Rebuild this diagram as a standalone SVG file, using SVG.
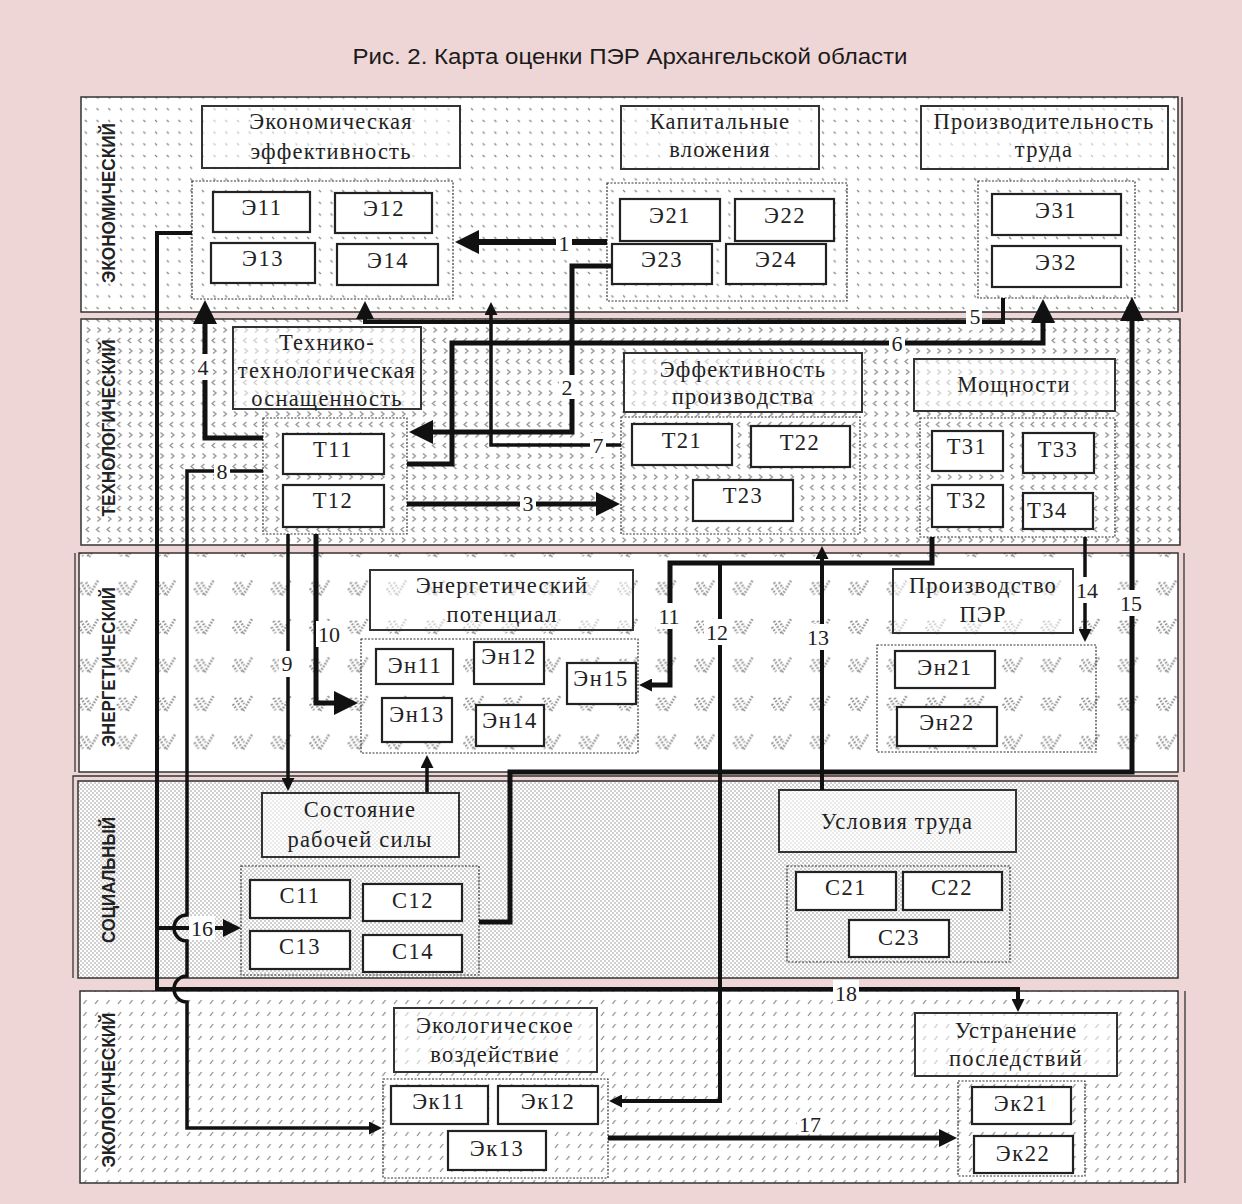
<svg xmlns="http://www.w3.org/2000/svg" width="1242" height="1204" viewBox="0 0 1242 1204">
<defs>
<pattern id="pEcon" width="11.7" height="11.7" patternUnits="userSpaceOnUse"><path d="M3,3 l2,2" stroke="#808080" stroke-width="1.3"/></pattern>
<pattern id="pTech" width="10.5" height="21" patternUnits="userSpaceOnUse"><path d="M5,2 l-3,2.5 l3,2.5 M3,12.5 l3,2.5 l-3,2.5" stroke="#8c8c8c" stroke-width="1.2" fill="none"/></pattern>
<pattern id="pEn" width="38.5" height="38.5" patternUnits="userSpaceOnUse"><g stroke="#8a8a8a" stroke-width="2.6" stroke-dasharray="1.5 1.6" fill="none"><path d="M4,5 L12,18 L21,3"/><path d="M9,5 L13,11"/><path d="M2,11 L6,17"/></g></pattern>
<pattern id="pSoc" width="4" height="4" patternUnits="userSpaceOnUse"><circle cx="1" cy="1" r="0.75" fill="#8a8a8a"/><circle cx="3" cy="3" r="0.75" fill="#8a8a8a"/></pattern>
<pattern id="pEcol" width="11.5" height="12" patternUnits="userSpaceOnUse"><path d="M3,8 L6,4" stroke="#7a7a7a" stroke-width="1.1"/></pattern>
<marker id="aL" markerUnits="userSpaceOnUse" markerWidth="24" markerHeight="24" refX="1" refY="12" orient="auto"><path d="M0,0 L24,12 L0,24 z" fill="#111"/></marker>
<marker id="aM" markerUnits="userSpaceOnUse" markerWidth="18" markerHeight="18" refX="1" refY="9" orient="auto"><path d="M0,0 L18,9 L0,18 z" fill="#111"/></marker>
<marker id="aS" markerUnits="userSpaceOnUse" markerWidth="13" markerHeight="13" refX="1" refY="6.5" orient="auto"><path d="M0,0 L13,6.5 L0,13 z" fill="#111"/></marker>
<style>
.band{stroke:#333;stroke-width:1.5}
.bl{font-family:"Liberation Sans Narrow","Liberation Sans",Arial,sans-serif;font-weight:bold;font-size:18px;fill:#222;text-anchor:middle}
.hd{fill:#fff;fill-opacity:0.55;stroke:#333;stroke-width:2}
.nd{fill:#fff;stroke:#222;stroke-width:2.2}
.gp{fill:none;stroke:#333;stroke-width:1.2;stroke-dasharray:2 1.5}
.t{font-family:"Liberation Serif","Times New Roman",serif;font-size:22.5px;letter-spacing:1.2px;fill:#222;text-anchor:middle}
.n{font-family:"Liberation Serif","Times New Roman",serif;font-size:22.5px;letter-spacing:1.5px;fill:#222;text-anchor:middle}
.c{fill:none;stroke:#111;stroke-linejoin:miter}
.w5{stroke-width:5}
.w4{stroke-width:4}
.w3{stroke-width:3.5}
.lb{fill:#fff}
.lt{font-family:"Liberation Serif","Times New Roman",serif;font-size:22px;fill:#222;text-anchor:middle}
</style>
</defs>
<rect x="0" y="0" width="1242" height="1204" fill="#efd6d6"/>
<text x="630" y="64" font-family="Liberation Sans Narrow, Liberation Sans, Arial, sans-serif" font-size="22" fill="#1a1a1a" text-anchor="middle" textLength="555" lengthAdjust="spacingAndGlyphs">Рис. 2. Карта оценки ПЭР Архангельской области</text>

<g id="bands">
<rect x="81" y="97" width="1097" height="215" fill="#fff"/><rect class="band" x="81" y="97" width="1097" height="215" fill="url(#pEcon)"/><path d="M1182,97 V312" stroke="#333" stroke-width="1.5"/>
<rect x="81" y="319" width="1099" height="226" fill="#fff"/><rect class="band" x="81" y="319" width="1099" height="226" fill="url(#pTech)"/>
<rect x="79" y="553" width="1099" height="219" fill="#fff"/><rect class="band" x="79" y="553" width="1099" height="219" fill="url(#pEn)"/><path d="M75,553 V772 M1184,553 V772" stroke="#333" stroke-width="1.3"/>
<rect x="78" y="781" width="1100" height="197" fill="#fff"/><rect class="band" x="78" y="781" width="1100" height="197" fill="url(#pSoc)"/><path d="M73,978 V776 H1178" stroke="#333" stroke-width="1.3" fill="none"/>
<rect x="80" y="991" width="1098" height="192" fill="#fff"/><rect class="band" x="80" y="991" width="1098" height="192" fill="url(#pEcol)"/><path d="M1185,991 V1183" stroke="#333" stroke-width="1.3"/>
<text class="bl" transform="translate(115,203) rotate(-90)" textLength="160" lengthAdjust="spacingAndGlyphs">ЭКОНОМИЧЕСКИЙ</text>
<text class="bl" transform="translate(115,428) rotate(-90)" textLength="177" lengthAdjust="spacingAndGlyphs">ТЕХНОЛОГИЧЕСКИЙ</text>
<text class="bl" transform="translate(115,667) rotate(-90)" textLength="160" lengthAdjust="spacingAndGlyphs">ЭНЕРГЕТИЧЕСКИЙ</text>
<text class="bl" transform="translate(115,880) rotate(-90)" textLength="126" lengthAdjust="spacingAndGlyphs">СОЦИАЛЬНЫЙ</text>
<text class="bl" transform="translate(115,1090) rotate(-90)" textLength="155" lengthAdjust="spacingAndGlyphs">ЭКОЛОГИЧЕСКИЙ</text>
</g>

<g id="econ-eff"><rect class="hd" x="202" y="106" width="258" height="62"/><text class="t" x="331" y="129">Экономическая</text><text class="t" x="331" y="159">эффективность</text></g>
<g id="E1"><rect class="gp" x="192" y="181" width="261" height="118"/>
<rect class="nd" x="213" y="192" width="97" height="40"/><text class="n" x="262" y="215">Э11</text>
<rect class="nd" x="335" y="193" width="97" height="40"/><text class="n" x="384" y="216">Э12</text>
<rect class="nd" x="211" y="243" width="104" height="40"/><text class="n" x="263" y="266">Э13</text>
<rect class="nd" x="337" y="244" width="101" height="41"/><text class="n" x="388" y="268">Э14</text></g>
<g id="cap-inv"><rect class="hd" x="621" y="106" width="198" height="63"/><text class="t" x="720" y="129">Капитальные</text><text class="t" x="720" y="157">вложения</text></g>
<g id="E2"><rect class="gp" x="607" y="183" width="240" height="118"/>
<rect class="nd" x="620" y="199" width="100" height="42"/><text class="n" x="670" y="223">Э21</text>
<rect class="nd" x="735" y="199" width="99" height="42"/><text class="n" x="785" y="223">Э22</text>
<rect class="nd" x="612" y="244" width="100" height="40"/><text class="n" x="662" y="267">Э23</text>
<rect class="nd" x="726" y="244" width="100" height="40"/><text class="n" x="776" y="267">Э24</text></g>
<g id="labor-prod"><rect class="hd" x="921" y="106" width="247" height="63"/><text class="t" x="1044" y="129">Производительность</text><text class="t" x="1044" y="157">труда</text></g>
<g id="E3"><rect class="gp" x="978" y="181" width="157" height="117"/>
<rect class="nd" x="992" y="194" width="129" height="41"/><text class="n" x="1056" y="218">Э31</text>
<rect class="nd" x="992" y="246" width="129" height="41"/><text class="n" x="1056" y="270">Э32</text></g>

<g id="tech-eq"><rect class="hd" x="233" y="327" width="188" height="82"/><text class="t" x="327" y="350">Технико-</text><text class="t" x="327" y="378" letter-spacing="0.2">технологическая</text><text class="t" x="327" y="406">оснащенность</text></g>
<g id="T1"><rect class="gp" x="263" y="418" width="144" height="116"/>
<rect class="nd" x="283" y="434" width="101" height="40"/><text class="n" x="333" y="457">Т11</text>
<rect class="nd" x="283" y="485" width="101" height="42"/><text class="n" x="333" y="508">Т12</text></g>
<g id="prod-eff"><rect class="hd" x="624" y="353" width="238" height="59"/><text class="t" x="743" y="377">Эффективность</text><text class="t" x="743" y="404">производства</text></g>
<g id="T2"><rect class="gp" x="621" y="417" width="239" height="117"/>
<rect class="nd" x="632" y="424" width="100" height="41"/><text class="n" x="682" y="448">Т21</text>
<rect class="nd" x="751" y="426" width="99" height="41"/><text class="n" x="800" y="450">Т22</text>
<rect class="nd" x="693" y="480" width="100" height="41"/><text class="n" x="743" y="503">Т23</text></g>
<g id="capacity"><rect class="hd" x="914" y="359" width="201" height="52"/><text class="t" x="1014" y="392">Мощности</text></g>
<g id="T3"><rect class="gp" x="920" y="418" width="195" height="119"/>
<rect class="nd" x="932" y="431" width="71" height="40"/><text class="n" x="967" y="454">Т31</text>
<rect class="nd" x="1023" y="433" width="71" height="40"/><text class="n" x="1058" y="457">Т33</text>
<rect class="nd" x="932" y="485" width="71" height="42"/><text class="n" x="967" y="508">Т32</text>
<rect class="nd" x="1023" y="493" width="70" height="36"/><text class="n" x="1027" y="518" style="text-anchor:start">Т34</text></g>

<g id="en-pot"><rect class="hd" x="370" y="570" width="263" height="60"/><text class="t" x="502" y="593">Энергетический</text><text class="t" x="502" y="622">потенциал</text></g>
<g id="En1"><rect class="gp" x="361" y="639" width="277" height="114"/>
<rect class="nd" x="376" y="649" width="77" height="35"/><text class="n" x="415" y="673">Эн11</text>
<rect class="nd" x="474" y="642" width="70" height="42"/><text class="n" x="509" y="664">Эн12</text>
<rect class="nd" x="382" y="698" width="70" height="44"/><text class="n" x="417" y="722">Эн13</text>
<rect class="nd" x="476" y="705" width="68" height="41"/><text class="n" x="510" y="728">Эн14</text>
<rect class="nd" x="567" y="663" width="69" height="41"/><text class="n" x="601" y="686">Эн15</text></g>
<g id="per-prod"><rect class="hd" x="893" y="569" width="180" height="64"/><text class="t" x="983" y="593">Производство</text><text class="t" x="983" y="622">ПЭР</text></g>
<g id="En2"><rect class="gp" x="877" y="645" width="219" height="107"/>
<rect class="nd" x="895" y="651" width="100" height="37"/><text class="n" x="945" y="675">Эн21</text>
<rect class="nd" x="897" y="707" width="100" height="39"/><text class="n" x="947" y="730">Эн22</text></g>

<g id="workforce"><rect class="hd" x="262" y="793" width="197" height="64"/><text class="t" x="360" y="817">Состояние</text><text class="t" x="360" y="847">рабочей силы</text></g>
<g id="C1"><rect class="gp" x="241" y="866" width="238" height="109"/>
<rect class="nd" x="250" y="880" width="100" height="38"/><text class="n" x="300" y="903">С11</text>
<rect class="nd" x="363" y="884" width="99" height="37"/><text class="n" x="413" y="908">С12</text>
<rect class="nd" x="250" y="931" width="100" height="38"/><text class="n" x="300" y="954">С13</text>
<rect class="nd" x="363" y="935" width="99" height="37"/><text class="n" x="413" y="959">С14</text></g>
<g id="work-cond"><rect class="hd" x="779" y="790" width="237" height="62"/><text class="t" x="897" y="829">Условия труда</text></g>
<g id="C2"><rect class="gp" x="787" y="866" width="223" height="96"/>
<rect class="nd" x="796" y="872" width="100" height="38"/><text class="n" x="846" y="895">С21</text>
<rect class="nd" x="903" y="872" width="99" height="38"/><text class="n" x="952" y="895">С22</text>
<rect class="nd" x="849" y="920" width="100" height="37"/><text class="n" x="899" y="945">С23</text></g>

<g id="eco-impact"><rect class="hd" x="394" y="1008" width="203" height="64"/><text class="t" x="495" y="1033">Экологическое</text><text class="t" x="495" y="1062">воздействие</text></g>
<g id="Ek1"><rect class="gp" x="383" y="1079" width="225" height="99"/>
<rect class="nd" x="391" y="1086" width="97" height="38"/><text class="n" x="439" y="1109">Эк11</text>
<rect class="nd" x="498" y="1086" width="100" height="38"/><text class="n" x="548" y="1109">Эк12</text>
<rect class="nd" x="448" y="1131" width="98" height="39"/><text class="n" x="497" y="1156">Эк13</text></g>
<g id="remediation"><rect class="hd" x="915" y="1013" width="202" height="63"/><text class="t" x="1016" y="1038">Устранение</text><text class="t" x="1016" y="1066">последствий</text></g>
<g id="Ek2"><rect class="gp" x="958" y="1081" width="127" height="95"/>
<rect class="nd" x="972" y="1087" width="99" height="37"/><text class="n" x="1021" y="1111">Эк21</text>
<rect class="nd" x="974" y="1136" width="99" height="37"/><text class="n" x="1023" y="1161">Эк22</text></g>

<g id="connectors">
<path class="c" stroke-width="6" d="M607,242 H478" marker-end="url(#aL)"/>
<path class="c w5" d="M612,266 H572 V432 H432" marker-end="url(#aL)"/>
<path class="c w5" d="M407,504 H597" marker-end="url(#aL)"/>
<path class="c w5" d="M263,438 H205 V323" marker-end="url(#aL)"/>
<path class="c w4" d="M1003,298 V322 H365 V318" marker-end="url(#aM)"/>
<path class="c w5" d="M407,464 H452 V343 H1043 V322" marker-end="url(#aL)"/>
<path class="c w3" d="M621,445 H491 V314" marker-end="url(#aS)"/>
<path class="c w3" d="M263,471 H187 V915 A13,13 0 0 0 187,941 V976 A13,13 0 0 0 187,1002 V1128 H370" marker-end="url(#aS)"/>
<path class="c w3" d="M288,534 V779" marker-end="url(#aS)"/>
<path class="c w5" d="M316,534 V703 H335" marker-end="url(#aL)"/>
<path class="c w5" d="M932,537 V563 H670 V685 H651" marker-end="url(#aS)"/>
<path class="c w4" d="M720,563 V1101 H621" marker-end="url(#aS)"/>
<path class="c w4" d="M822,790 V558" marker-end="url(#aS)"/>
<path class="c w3" d="M1085,537 V630" marker-end="url(#aS)"/>
<path class="c w5" d="M479,922 H510 V772 H1132 V320" marker-end="url(#aL)"/>
<path class="c w3" d="M427,792 V767" marker-end="url(#aS)"/>
<path class="c w4" d="M192,233 H157 V989 H1018 V1000" marker-end="url(#aS)"/>
<path class="c w4" d="M157,928 H224" marker-end="url(#aM)"/>
<path class="c w5" d="M608,1138 H940" marker-end="url(#aM)"/>
</g>
<g id="labels">
<rect class="lb" x="556" y="231" width="16" height="24"/><text class="lt" x="564" y="251">1</text>
<rect class="lb" x="559" y="375" width="16" height="24"/><text class="lt" x="567" y="395">2</text>
<rect class="lb" x="520" y="491" width="16" height="24"/><text class="lt" x="528" y="511">3</text>
<rect class="lb" x="195" y="354" width="16" height="26"/><text class="lt" x="203" y="375">4</text>
<rect class="lb" x="966" y="306" width="16" height="24"/><text class="lt" x="975" y="324">5</text>
<rect class="lb" x="889" y="332" width="16" height="24"/><text class="lt" x="897" y="351">6</text>
<rect class="lb" x="590" y="433" width="16" height="24"/><text class="lt" x="598" y="453">7</text>
<rect class="lb" x="214" y="459" width="16" height="24"/><text class="lt" x="222" y="479">8</text>
<rect class="lb" x="279" y="651" width="16" height="26"/><text class="lt" x="287" y="671">9</text>
<rect class="lb" x="316" y="621" width="26" height="26"/><text class="lt" x="329" y="642">10</text>
<rect class="lb" x="656" y="603" width="26" height="26"/><text class="lt" x="669" y="624">11</text>
<rect class="lb" x="704" y="619" width="26" height="26"/><text class="lt" x="717" y="640">12</text>
<rect class="lb" x="805" y="624" width="26" height="26"/><text class="lt" x="818" y="645">13</text>
<rect class="lb" x="1074" y="577" width="26" height="26"/><text class="lt" x="1087" y="598">14</text>
<rect class="lb" x="1118" y="590" width="26" height="26"/><text class="lt" x="1131" y="611">15</text>
<rect class="lb" x="189" y="916" width="26" height="24"/><text class="lt" x="202" y="936">16</text>
<rect class="lb" x="797" y="1112" width="26" height="22"/><text class="lt" x="810" y="1132">17</text>
<rect class="lb" x="833" y="980" width="26" height="24"/><text class="lt" x="846" y="1001">18</text>
</g>
</svg>
